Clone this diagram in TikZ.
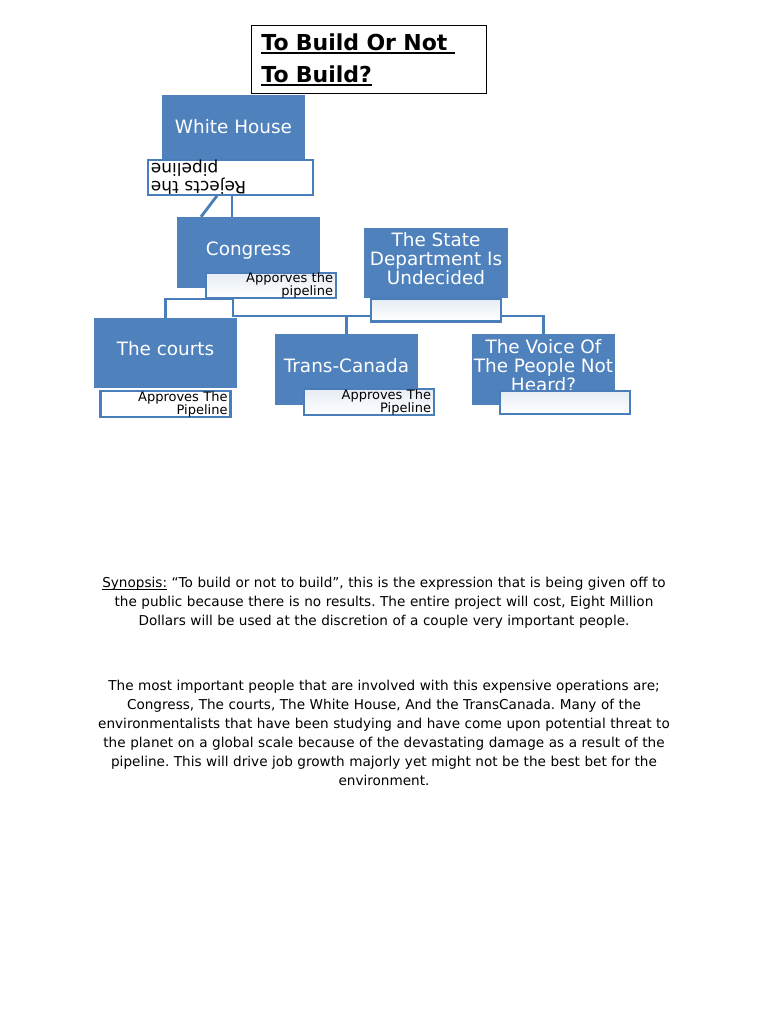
\documentclass[tikz,border=0pt]{standalone}
\usepackage{fontspec}
\setmainfont{DejaVu Sans}
\usetikzlibrary{backgrounds}
\frenchspacing

\definecolor{boxblue}{HTML}{4F81BD}
\definecolor{lineblue}{HTML}{4A7EBB}
\definecolor{notefill}{HTML}{E6ECF5}
\newcommand{\titleul}[1]{\leavevmode\setbox0\hbox{#1}\rlap{\rule[-3.5pt]{\wd0}{1.8pt}}\box0\relax}
\newcommand{\thinul}[1]{\leavevmode\setbox0\hbox{#1}\rlap{\rule[-2.5pt]{\wd0}{0.8pt}}\box0\relax}

\begin{document}
\begin{tikzpicture}[x=1pt, y=-1pt,
    bluebox/.style={fill=boxblue, text=white, minimum width=143, minimum height=70,
        inner sep=0, align=center, text depth=8pt, font=\fontsize{18.4}{19}\selectfont},
    notebox/.style={draw=lineblue, line width=2.2pt, fill=white, minimum width=130,
        minimum height=23, inner xsep=3, inner ysep=0, text width=124, align=right,
        font=\fontsize{13}{13}\selectfont},
    shadenote/.style={notebox, top color=notefill, bottom color=white},
    link/.style={draw=lineblue, line width=2.8pt}]
\useasboundingbox (0,0) rectangle (768,1024);
% Title
    \node[draw=black, line width=0.8pt, anchor=north west, minimum width=235, minimum height=68,
        inner xsep=10, inner ysep=0, text width=215, align=left,
        font=\fontsize{22}{32}\selectfont\bfseries] (title) at (251,25)
        {\titleul{To Build Or Not\ }\\\titleul{To Build?}};
% Boxes
    \node[bluebox] (whitehouse) at (233.5,130.5) {White House};
    \node[notebox, minimum width=165, minimum height=27, text width=159, rotate=180,
        font=\fontsize{17}{18}\selectfont] (rejects) at (230.5,177.5) {Rejects the\\pipeline};
    \node[bluebox, minimum height=71] (congress) at (248.5,252.5) {Congress};
    \node[shadenote] (apporves) at (271,285.5) {Apporves the\\pipeline};
    \node[bluebox, minimum width=144] (statedept) at (436,263) {The State\\Department Is\\Undecided};
    \node[shadenote] (stateblank) at (436,310) {};
    \node[bluebox] (courts) at (165.5,353) {The courts};
    \node[notebox] (courtsnote) at (165.5,404) {Approves The\\Pipeline};
    \node[bluebox, minimum height=71] (transcanada) at (346.5,369.5) {Trans-Canada};
    \node[shadenote] (tcnote) at (369,402) {Approves The\\Pipeline};
    \node[bluebox, minimum height=71] (voice) at (543.5,369.5) {The Voice Of\\The People Not\\Heard?};
    \node[shadenote] (voiceblank) at (565,402.5) {};
% Connectors
\begin{scope}[on background layer]
    \fill[white] (0,0) rectangle (768,1024);
    \coordinate (fork) at (233,316);
    \coordinate (split) at (233,299);
    \draw[link] ([xshift=-13.5]rejects.north) -- ([xshift=-47.5]congress.north);
    \draw[link] ([xshift=1.5]rejects.north) -- ([xshift=-16.5]congress.north);
    \draw[link] (congress.south -| fork) -- (fork) -| (voice.north);
    \draw[link] (fork) -| (transcanada.north);
    \draw[link] (split) -| (courts.north);
\end{scope}
% Text
    \node[anchor=north, inner sep=0, text width=620, align=center,
        font=\fontsize{13.6}{19}\selectfont] (synopsis) at (384,577)
        {\thinul{Synopsis:} “To build or not to build”, this is the expression that is being given off to\\
        the public because there is no results. The entire project will cost, Eight Million\\
        Dollars will be used at the discretion of a couple very important people.};
    \node[anchor=north, inner sep=0, text width=620, align=center,
        font=\fontsize{13.6}{19}\selectfont] (summary) at (384,680)
        {The most important people that are involved with this expensive operations are;\\
        Congress, The courts, The White House, And the TransCanada. Many of the\\
        environmentalists that have been studying and have come upon potential threat to\\
        the planet on a global scale because of the devastating damage as a result of the\\
        pipeline. This will drive job growth majorly yet might not be the best bet for the\\
        environment.};
\end{tikzpicture}
\end{document}
